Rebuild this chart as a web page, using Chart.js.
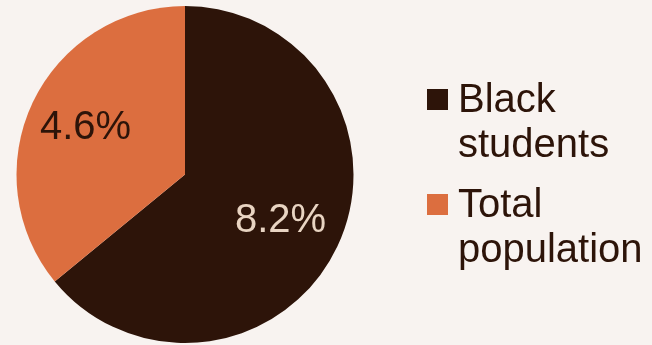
<!DOCTYPE html>
<html>
<head>
<meta charset="utf-8">
<script src="https://cdn.jsdelivr.net/npm/chart.js@4/dist/chart.umd.min.js"></script>
<style>
  html, body { margin: 0; padding: 0; background: #f8f3f0; }
  #wrap { width: 652px; height: 345px; position: relative; }
</style>
</head>
<body>
<div id="wrap"><canvas id="pie"></canvas></div>
<script>
// share of suspensions
const groups = [["Black", "students"], ["Total", "population"]];
const shares = [8.2, 4.6];
const shareLabels = ["8.2%", "4.6%"];
const sliceColors = ["#2d1409", "#dc6e3f"];
const valueColors = ["#e8d4c2", "#2d1409"];

const FONT = "'Liberation Sans', Arial, sans-serif";

// percent text inside each slice, along its middle angle
const sliceText = {
  id: "sliceText",
  afterDatasetsDraw(chart) {
    const ctx = chart.ctx;
    const meta = chart.getDatasetMeta(0);
    ctx.save();
    ctx.font = "40px " + FONT;
    ctx.textAlign = "center";
    ctx.textBaseline = "middle";
    meta.data.forEach((arc, i) => {
      const p = arc.getProps(["x", "y", "startAngle", "endAngle", "outerRadius"], true);
      const mid = (p.startAngle + p.endAngle) / 2;
      const r = p.outerRadius * 0.64;
      ctx.fillStyle = valueColors[i];
      ctx.fillText(shareLabels[i], p.x + Math.cos(mid) * r - 2, p.y + Math.sin(mid) * r);
    });
    ctx.restore();
  }
};

// legend on the right, two lines per entry
const sideLegend = {
  id: "sideLegend",
  afterDraw(chart) {
    const ctx = chart.ctx;
    const x = 427, box = 21, textX = 458, lineH = 45, itemH = 105;
    ctx.save();
    ctx.font = "40px " + FONT;
    ctx.textAlign = "left";
    ctx.textBaseline = "alphabetic";
    groups.forEach((lines, i) => {
      const base = 112 + i * itemH;
      ctx.fillStyle = sliceColors[i];
      ctx.fillRect(x, base - 23, box, box);
      ctx.fillStyle = "#2d1409";
      lines.forEach((t, j) => ctx.fillText(t, textX, base + j * lineH));
    });
    ctx.restore();
  }
};

new Chart(document.getElementById("pie"), {
  type: "pie",
  data: {
    labels: groups.map(g => g.join(" ")),
    datasets: [{
      data: shares,
      backgroundColor: sliceColors,
      borderWidth: 0
    }]
  },
  options: {
    responsive: true,
    maintainAspectRatio: false,
    animation: false,
    layout: { padding: { left: 16, top: 6, bottom: 2, right: 298 } },
    plugins: {
      legend: { display: false },
      tooltip: { enabled: false }
    }
  },
  plugins: [sliceText, sideLegend]
});
</script>
</body>
</html>
